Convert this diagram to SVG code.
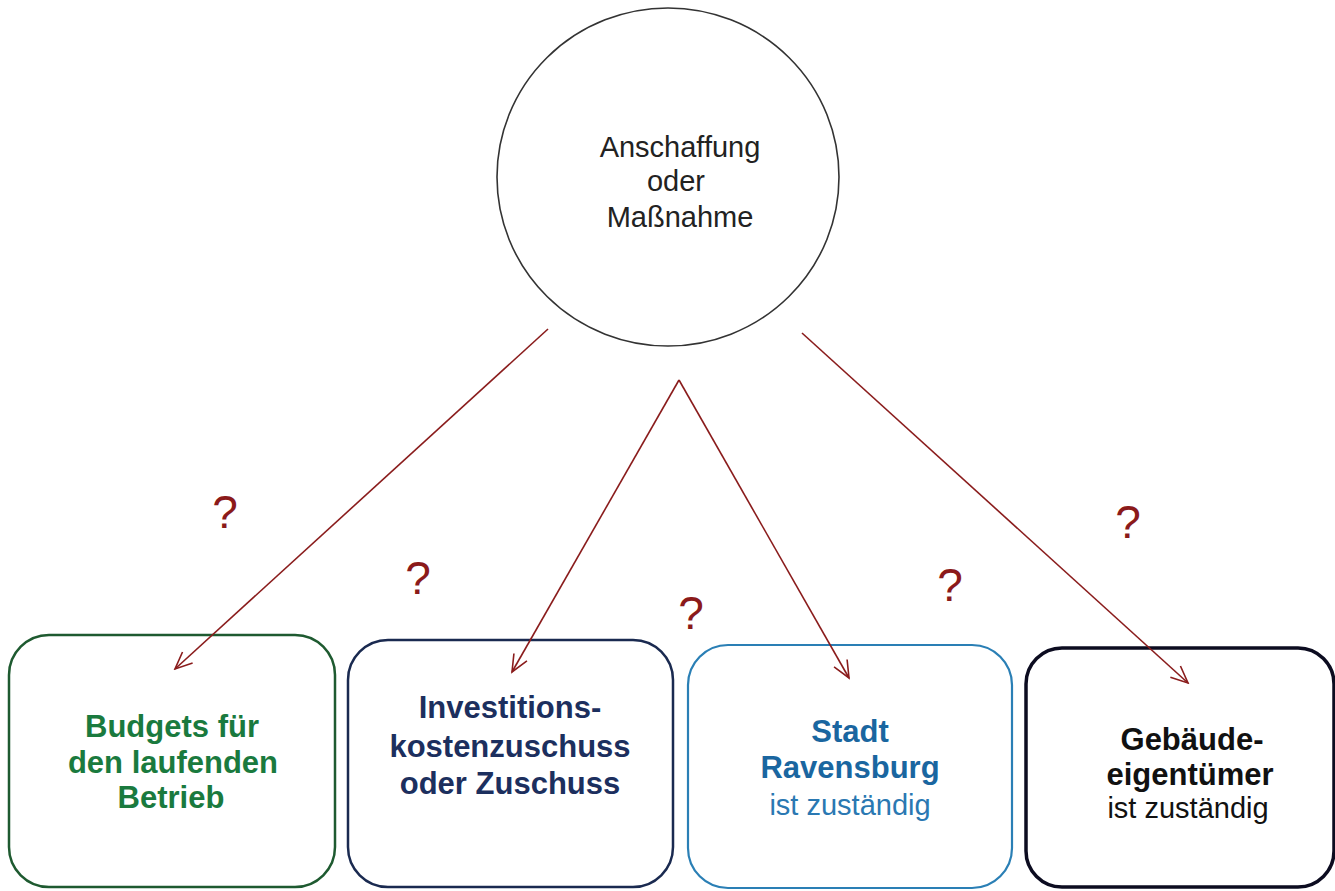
<svg xmlns="http://www.w3.org/2000/svg" width="1335" height="891" viewBox="0 0 1335 891">
<style>
text{font-family:"Liberation Sans",Arial,sans-serif;text-anchor:middle}
.b{font-weight:bold;font-size:31px}
.n{font-size:29px}
.c{font-size:29px;fill:#222}
.q{font-size:46px;fill:#8b1a1a}
.arrow{stroke:#8a1c1c;stroke-width:1.6;fill:none}
.box{fill:#fff}
</style>
<defs>
<marker id="ah" markerUnits="userSpaceOnUse" viewBox="0 0 20 20" markerWidth="20" markerHeight="20" refX="18" refY="10" orient="auto">
<path d="M1,2.5 L18,10 L1,17.5" fill="none" stroke="#8a1c1c" stroke-width="1.6"/>
</marker>
</defs>
<rect width="1335" height="891" fill="#fff"/>
<g id="start">
<ellipse cx="668" cy="177" rx="171" ry="169" fill="#fff" stroke="#333" stroke-width="1.6"/>
<text class="c" x="680" y="157">Anschaffung</text>
<text class="c" x="676" y="191">oder</text>
<text class="c" x="680" y="227">Maßnahme</text>
</g>
<g id="budgets">
<rect class="box" x="9" y="635" width="326" height="252" rx="40" stroke="#1e5a30" stroke-width="2.5"/>
<text class="b" x="172" y="737" fill="#1a7a3e">Budgets für</text>
<text class="b" x="173" y="773" fill="#1a7a3e">den laufenden</text>
<text class="b" x="171" y="808" fill="#1a7a3e">Betrieb</text>
</g>
<g id="investition">
<rect class="box" x="348" y="640" width="325" height="247" rx="40" stroke="#1a2a50" stroke-width="2.5"/>
<text class="b" x="510" y="718" fill="#1c2f5e">Investitions-</text>
<text class="b" x="510" y="757" fill="#1c2f5e">kostenzuschuss</text>
<text class="b" x="510" y="794" fill="#1c2f5e">oder Zuschuss</text>
</g>
<g id="stadt">
<rect class="box" x="688" y="645" width="324" height="243" rx="40" stroke="#2a7fb5" stroke-width="2.2"/>
<text class="b" x="850" y="742" fill="#1a66a0">Stadt</text>
<text class="b" x="850" y="778" fill="#1a66a0">Ravensburg</text>
<text class="n" x="850" y="815" fill="#2a78b2">ist zuständig</text>
</g>
<g id="eigentuemer">
<rect class="box" x="1026" y="648" width="308" height="239" rx="36" stroke="#0c0c20" stroke-width="3.5"/>
<text class="b" x="1192" y="750" font-size="31.5" fill="#111">Gebäude-</text>
<text class="b" x="1190" y="785" font-size="31.5" fill="#111">eigentümer</text>
<text class="n" x="1188" y="818" font-size="30.5" fill="#111">ist zuständig</text>
</g>
<g id="connectors">
<line class="arrow" x1="548" y1="329" x2="175" y2="669" marker-end="url(#ah)"/>
<line class="arrow" x1="679" y1="380" x2="512" y2="672" marker-end="url(#ah)"/>
<line class="arrow" x1="679" y1="380" x2="849" y2="678" marker-end="url(#ah)"/>
<line class="arrow" x1="802" y1="333" x2="1188" y2="683" marker-end="url(#ah)"/>
</g>
<g id="labels">
<text class="q" x="225" y="528">?</text>
<text class="q" x="418" y="594">?</text>
<text class="q" x="691" y="629">?</text>
<text class="q" x="950" y="601">?</text>
<text class="q" x="1128" y="538">?</text>
</g>
</svg>
